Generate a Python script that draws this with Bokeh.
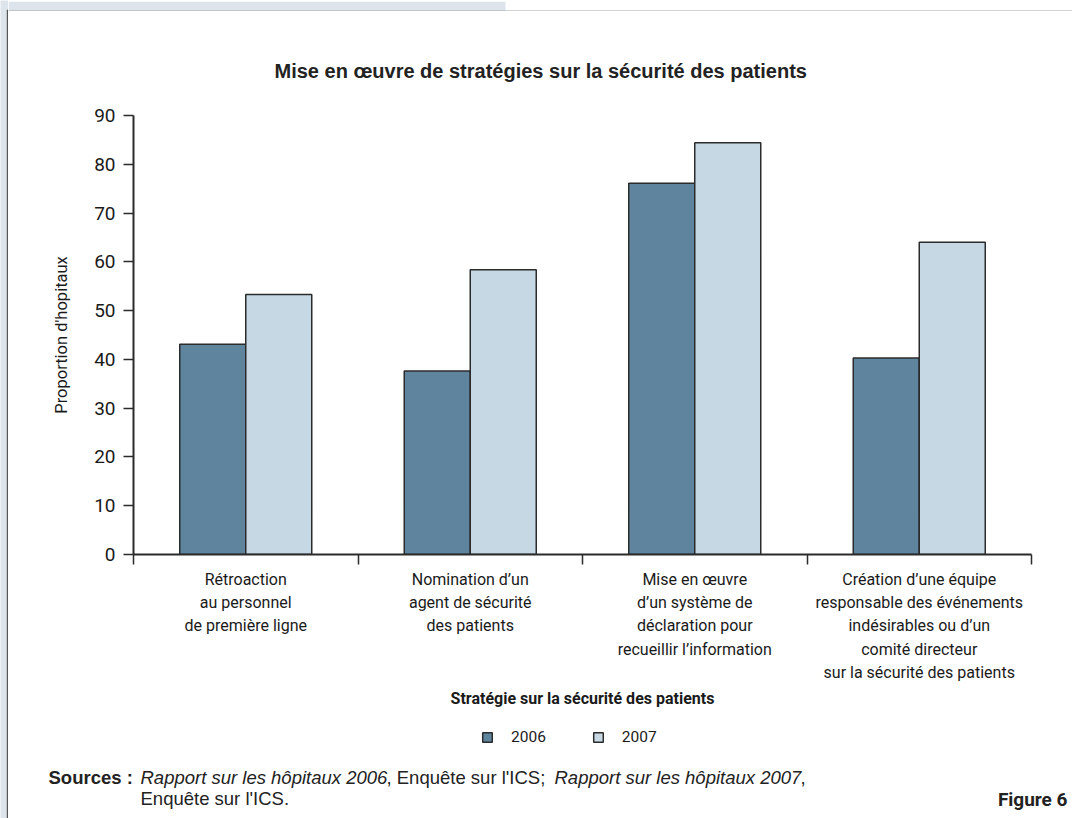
from bokeh.plotting import figure
from bokeh.models import Range1d, FixedTicker, Label, Legend, LegendItem, BoxAnnotation
from bokeh.layouts import column, row
from bokeh.embed import file_html
from bokeh.resources import INLINE

# ---------------- data ----------------
categories = [
    "Rétroaction\nau personnel\nde première ligne",
    "Nomination d’un\nagent de sécurité\ndes patients",
    "Mise en œuvre\nd’un système de\ndéclaration pour\nrecueillir l’information",
    "Création d’une équipe\nresponsable des événements\nindésirables ou d’un\ncomité directeur\nsur la sécurité des patients",
]
years = ["2006", "2007"]
v2006 = [43.1, 37.6, 76.1, 40.3]
v2007 = [53.3, 58.4, 84.4, 64.0]
y_ticks = [0, 10, 20, 30, 40, 50, 60, 70, 80, 90]

title_text = "Mise en œuvre de stratégies sur la sécurité des patients"
y_title = "Proportion d'hopitaux"
x_title = "Stratégie sur la sécurité des patients"
src_label = "Sources :"
src_parts = ["Rapport sur les hôpitaux 2006", ", Enquête sur l'ICS; ",
             "Rapport sur les hôpitaux 2007", ","]
src_line2 = "Enquête sur l'ICS."
fig_label = "Figure 6"

# ---------------- layout constants ----------------
PW, PH = 1072, 818
SIDE = 8            # left decorative strip
TOPH = 11           # top decorative strip
FOOT_TOP = 726      # page y where the footer (legend + sources) starts
W = PW - SIDE
H1 = FOOT_TOP - TOPH
H2 = PH - FOOT_TOP
FRAME_TOP, FRAME_BOTTOM = 115, 554
L, R = 125, 41
T = FRAME_TOP - TOPH
B = FOOT_TOP - FRAME_BOTTOM
NC = len(categories)
YMAX = 90
LEGEND_Y = 737

CONDENSED = "Roboto"
SANS = "Liberation Sans"
DARK = "#2b2b2b"
TXT = "#1a1a1a"
C06 = "#5f859e"
C07 = "#c5d8e3"
BAND = "#dde4ec"
EDGE = "#555555"


def bare(width, height, xr, yr):
    f = figure(width=width, height=height, x_range=xr, y_range=yr,
               x_axis_type=None, y_axis_type=None, output_backend="svg",
               toolbar_location=None, min_border=0, min_border_left=0,
               min_border_right=0, min_border_top=0, min_border_bottom=0)
    f.grid.visible = False
    f.outline_line_color = None
    f.background_fill_color = "white"
    f.border_fill_color = "white"
    f.frame_align = False
    return f


# decorative left strip
side = bare(SIDE, PH, Range1d(0, SIDE), Range1d(PH, 0))
side.background_fill_color = BAND
side.border_fill_color = BAND
side.add_layout(BoxAnnotation(left=6.3, right=8, top=9.3, bottom=PH, fill_color=EDGE,
                              fill_alpha=1, line_color=None))

# decorative top strip
top = bare(W, TOPH, Range1d(SIDE, PW), Range1d(TOPH, 0))
top.add_layout(BoxAnnotation(left=SIDE, right=505, top=0, bottom=9.3, fill_color=BAND,
                             fill_alpha=1, line_color=None))
top.add_layout(BoxAnnotation(left=SIDE, right=PW, top=9.3, bottom=10.8, fill_color=EDGE,
                             fill_alpha=1, line_color=None))

# main plot
p = figure(width=W, height=H1, x_range=Range1d(0, NC), y_range=Range1d(0, YMAX),
           output_backend="svg", toolbar_location=None, title=title_text,
           min_border_left=L, min_border_right=R, min_border_top=T, min_border_bottom=B)
p.frame_align = False
p.grid.visible = False
p.outline_line_color = None
p.background_fill_color = "white"
p.border_fill_color = "white"

p.title.align = "left"
p.title.offset = 141
p.title.standoff = 67
p.title.text_font = SANS
p.title.text_font_style = "bold"
p.title.text_font_size = "20px"
p.title.text_color = "#222222"

bar_w = 0.294
idx = list(range(NC))
x06 = [i + 0.5 - bar_w / 2 for i in idx]
x07 = [i + 0.5 + bar_w / 2 for i in idx]

p.vbar(x=x06, top=v2006, width=bar_w, bottom=0, fill_color=C06,
       line_color=DARK, line_width=1.5)
p.vbar(x=x07, top=v2007, width=bar_w, bottom=0, fill_color=C07,
       line_color=DARK, line_width=1.5)

# y axis
ya = p.yaxis[0]
ya.ticker = FixedTicker(ticks=y_ticks)
ya.axis_line_color = DARK
ya.axis_line_width = 2
ya.major_tick_line_color = DARK
ya.major_tick_line_width = 1.5
ya.major_tick_out = 10
ya.major_tick_in = 0
ya.minor_tick_line_color = None
ya.major_label_text_font = CONDENSED
ya.major_label_text_font_size = "19px"
ya.major_label_text_color = TXT
ya.major_label_standoff = 8
ya.axis_label = y_title
ya.axis_label_text_font = CONDENSED
ya.axis_label_text_font_style = "normal"
ya.axis_label_text_font_size = "16.5px"
ya.axis_label_text_color = TXT
ya.axis_label_standoff = 20

# x axis
xa = p.xaxis[0]
xa.ticker = FixedTicker(ticks=[i + 0.5 for i in idx], minor_ticks=list(range(NC + 1)))
xa.major_label_overrides = {i + 0.5: c for i, c in zip(idx, categories)}
xa.axis_line_color = DARK
xa.axis_line_width = 2
xa.major_tick_line_color = None
xa.major_tick_out = 0
xa.major_tick_in = 0
xa.minor_tick_line_color = DARK
xa.minor_tick_line_width = 1.5
xa.minor_tick_out = 10
xa.minor_tick_in = 0
xa.major_label_text_font = CONDENSED
xa.major_label_text_font_size = "16px"
xa.major_label_text_color = TXT
xa.major_label_text_line_height = 1.23
xa.major_label_standoff = 5
xa.axis_label = x_title
xa.axis_label_text_font = CONDENSED
xa.axis_label_text_font_style = "bold"
xa.axis_label_text_font_size = "16px"
xa.axis_label_text_color = TXT
xa.axis_label_standoff = 4

# footer: legend + sources (page coordinates)
foot = bare(W, H2, Range1d(SIDE, PW), Range1d(FOOT_TOP + H2, FOOT_TOP))

# legend keys: hidden copies of the two series, used only for the legend swatches
k06 = foot.vbar(x=x06, top=v2006, width=bar_w, fill_color=C06, line_color=DARK,
                line_width=1.5, visible=False)
k07 = foot.vbar(x=x07, top=v2007, width=bar_w, fill_color=C07, line_color=DARK,
                line_width=1.5, visible=False)
legend = Legend(items=[LegendItem(label=years[0], renderers=[k06]),
                       LegendItem(label=years[1], renderers=[k07])],
                orientation="horizontal", location=(473, H2 - (LEGEND_Y - FOOT_TOP) - 9),
                label_text_font=CONDENSED, label_text_font_size="15.5px",
                label_text_color=TXT, glyph_width=12, glyph_height=12,
                spacing=46, label_standoff=18, padding=0, margin=0,
                inactive_fill_alpha=0,
                border_line_color=None, background_fill_alpha=0)
foot.add_layout(legend, "center")


def ftxt(x, y, text, style="normal", font=SANS, size="18.5px", align="left"):
    foot.add_layout(Label(x=x, y=y, text=text, text_font=font, text_font_style=style,
                          text_font_size=size, text_color="#222222",
                          text_align=align, text_baseline="middle"))


y1, y2 = 777, 798
ftxt(48, y1, src_label, "bold")
ftxt(140, y1, src_parts[0], "italic")
ftxt(386, y1, src_parts[1])
ftxt(554, y1, src_parts[2], "italic")
ftxt(800, y1, src_parts[3])
ftxt(140, y2, src_line2)
ftxt(1067, y2 + 1, fig_label, "bold", CONDENSED, "19px", "right")

layout = row(side, column(top, p, foot, spacing=0), spacing=0)

open("out.html", "w").write(file_html(layout, INLINE))
